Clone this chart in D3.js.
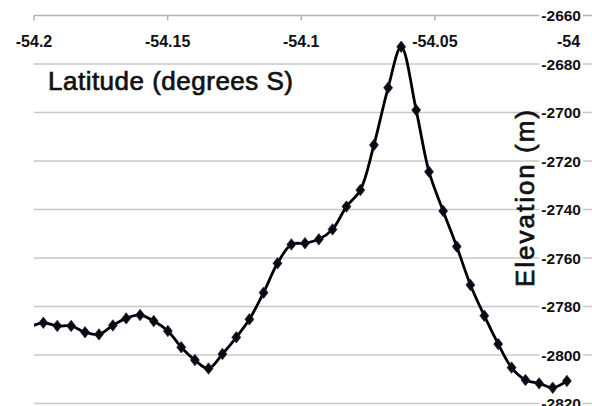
<!DOCTYPE html>
<html>
<head>
<meta charset="utf-8">
<script src="https://cdn.jsdelivr.net/npm/d3@7"></script>
<style>
  html, body { margin: 0; padding: 0; background: #fff; }
  svg { display: block; }
  text { font-family: "Liberation Sans", Arial, sans-serif; }
</style>
</head>
<body>
<svg id="chart" width="592" height="406"></svg>
<script>
// Latitude (degrees S, negative) of each sounding
const latitudes = [
  -54.2017, -54.1965, -54.1913, -54.1861, -54.1809, -54.1757, -54.1705, -54.1655,
  -54.1603, -54.1552, -54.1499, -54.1449, -54.1398, -54.1347, -54.1295, -54.1243,
  -54.1194, -54.1141, -54.1089, -54.1037, -54.0986, -54.0934, -54.0883, -54.0831,
  -54.0779, -54.0728, -54.0675, -54.0626, -54.0570, -54.0522, -54.0469, -54.0418,
  -54.0367, -54.0315, -54.0263, -54.0213, -54.0161, -54.0110, -54.0059, -54.0006
];
// Elevation (m)
const elevations = [
  -2788.5, -2786.7, -2788.0, -2788.0, -2790.6, -2791.5, -2787.8, -2784.9,
  -2783.5, -2786.0, -2790.1, -2796.8, -2802.1, -2805.6, -2799.6, -2792.7,
  -2785.3, -2774.3, -2762.2, -2754.4, -2753.9, -2752.3, -2748.2, -2738.8,
  -2732.0, -2713.4, -2689.8, -2672.9, -2699.0, -2724.4, -2740.6, -2755.3,
  -2771.1, -2783.8, -2795.5, -2805.2, -2810.3, -2811.7, -2813.5, -2810.7
];
const latTicks = [-54.2, -54.15, -54.1, -54.05, -54.0];
const latTickLabels = ["-54.2", "-54.15", "-54.1", "-54.05", "-54"];
const elevTicks = [-2660, -2680, -2700, -2720, -2740, -2760, -2780, -2800, -2820];
const elevTickLabels = ["-2660", "-2680", "-2700", "-2720", "-2740", "-2760", "-2780", "-2800", "-2820"];

const data = latitudes.map((lat, i) => ({ lat, elev: elevations[i] }));

const svg = d3.select("#chart");
const W = 592, H = 406;

const x = d3.scaleLinear().domain([-54.2, -54.0]).range([34, 568.5]);
const y = d3.scaleLinear().domain([-2820, -2660]).range([403.5, 15.5]);

// gridlines
svg.append("g").selectAll("line").data(elevTicks).join("line")
  .attr("x1", 34).attr("x2", W)
  .attr("y1", d => y(d)).attr("y2", d => y(d))
  .attr("stroke", d => d === -2660 ? "#b4b4b4" : "#c8c8c8")
  .attr("stroke-width", 1.5);

// top axis ticks
svg.append("g").selectAll("line").data(latTicks).join("line")
  .attr("x1", d => x(d)).attr("x2", d => x(d))
  .attr("y1", y(-2660)).attr("y2", y(-2660) + 5)
  .attr("stroke", "#b4b4b4").attr("stroke-width", 1.5);

// clip
svg.append("clipPath").attr("id", "clip").append("rect")
  .attr("x", 34).attr("y", 0).attr("width", W - 34).attr("height", H);

const plot = svg.append("g").attr("clip-path", "url(#clip)");

const line = d3.line()
  .x(d => x(d.lat)).y(d => y(d.elev))
  .curve(d3.curveCatmullRom.alpha(0.5));

plot.append("path").datum(data)
  .attr("d", line)
  .attr("fill", "none")
  .attr("stroke", "#000")
  .attr("stroke-width", 2.8)
  .attr("stroke-linejoin", "round");

const sym = d3.symbol().type(d3.symbolDiamond).size(38);
plot.append("g").selectAll("path").data(data).join("path")
  .attr("transform", d => `translate(${x(d.lat)},${y(d.elev)}) scale(1.35,1)`)
  .attr("d", sym)
  .attr("fill", "#0a0a14")
  .attr("stroke", "#1a2233")
  .attr("stroke-width", 0.6);

// top axis labels
svg.append("g").selectAll("text").data(latTicks).join("text")
  .attr("x", d => x(d)).attr("y", 47)
  .attr("text-anchor", "middle")
  .attr("font-size", "16px").attr("font-weight", "bold")
  .attr("fill", "#111")
  .text((d, i) => latTickLabels[i]);

// right axis labels with white backing
const rl = svg.append("g");
elevTicks.forEach((d, i) => {
  const g = rl.append("g");
  const t = g.append("text")
    .attr("x", 581).attr("y", y(d) + 5.6)
    .attr("text-anchor", "end")
    .attr("font-size", "15.5px").attr("font-weight", "bold")
    .attr("fill", "#111")
    .text(elevTickLabels[i]);
  const bb = t.node().getBBox();
  g.insert("rect", "text")
    .attr("x", bb.x - 2).attr("y", bb.y)
    .attr("width", bb.width + 4).attr("height", bb.height)
    .attr("fill", "#fff");
});

// axis titles
svg.append("text")
  .attr("x", 48).attr("y", 90)
  .attr("font-size", "26px")
  .attr("textLength", 245).attr("lengthAdjust", "spacing")
  .attr("fill", "#111").attr("stroke", "#111").attr("stroke-width", 0.7)
  .text("Latitude (degrees S)");

svg.append("text")
  .attr("transform", "translate(534,198.5) rotate(-90)")
  .attr("text-anchor", "middle")
  .attr("font-size", "26px")
  .attr("textLength", 177).attr("lengthAdjust", "spacing")
  .attr("fill", "#111").attr("stroke", "#111").attr("stroke-width", 0.7)
  .text("Elevation (m)");
</script>
</body>
</html>
